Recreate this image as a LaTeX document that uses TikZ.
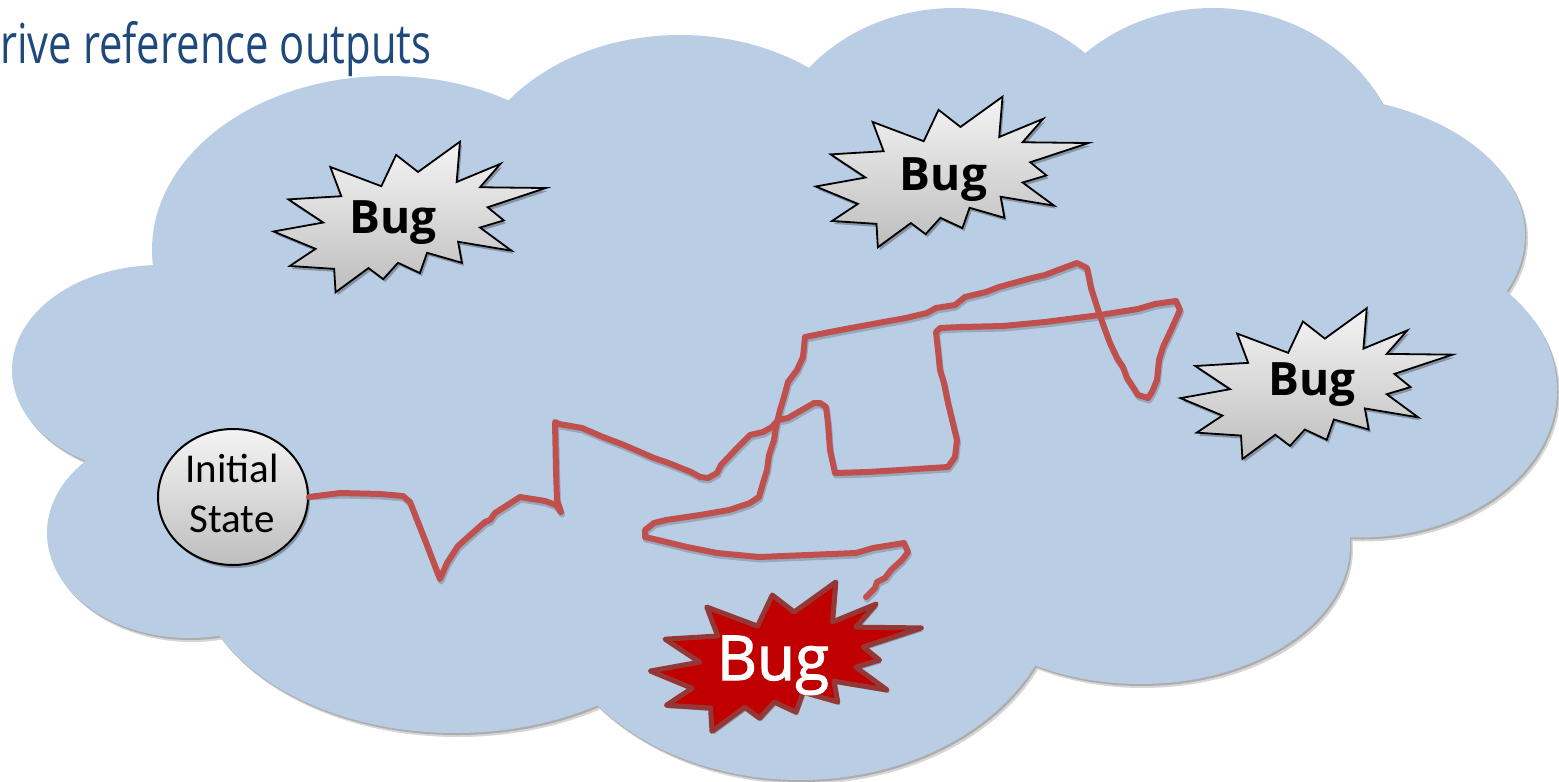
\documentclass[tikz,border=0pt]{standalone}
\usepackage{fontspec}
\setmainfont{Open Sans}
\newfontfamily\calib{Carlito}
\newfontfamily\obold[FakeBold=1.8]{Open Sans}
\usepackage{graphicx}
\usetikzlibrary{shapes.geometric}
\definecolor{cloudblue}{RGB}{185,205,228}
\definecolor{titleblue}{RGB}{31,73,125}
\definecolor{pathred}{RGB}{192,80,77}
\definecolor{bugred}{RGB}{192,0,0}
\definecolor{bugedge}{RGB}{149,55,53}
\definecolor{graytop}{RGB}{244,244,244}
\definecolor{graybot}{RGB}{190,190,190}

\newcommand\sealpts{(0.5306,0.2010) -- (0.6847,0) -- (0.6725,0.2675) -- (0.8337,0.1469) -- (0.7583,0.3024) -- (1,0.3076) -- (0.7863,0.4353) -- (0.8458,0.5227) -- (0.7583,0.5699) -- (0.8739,0.7237) -- (0.6778,0.6644) -- (0.6918,0.8042) -- (0.5639,0.7377) -- (0.5376,0.8723) -- (0.4570,0.8042) -- (0.4028,0.9126) -- (0.3485,0.8391) -- (0.2276,1) -- (0.2225,0.8444) -- (0.0595,0.8252) -- (0.1542,0.7116) -- (0,0.5962) -- (0.1822,0.5367) -- (0.0543,0.3829) -- (0.2487,0.3619) -- (0.2084,0.1678) -- (0.3958,0.2955) -- (0.4501,0.0874) -- cycle}

\newcommand\drawseal[5]{%
  \begin{scope}[shift={(#1+2,#2+3)},xscale=#3,yscale=#4]
    \fill[black,opacity=0.28] \sealpts;
  \end{scope}
  \begin{scope}[shift={(#1,#2)},xscale=#3,yscale=#4]
    \path[#5] \sealpts;
  \end{scope}}

\newcommand\lobelist{388/250/236/174, 160/370/148/105, 189/533/142/105, 455/560/262/173, 800/580/260/200, 1140/545/210/139, 1360/390/197/147.5, 1305/235/220/140, 1213/180/189/172, 955/170/188/162, 680/200/215/165, 780/400/600/260}

\newcommand\walkpts{-- (340,493) -- (380,494) -- (403,496) -- (410,502) -- (425,540) -- (440,579) -- (447,563) -- (458,546) -- (468,537) -- (485,522) -- (490,520) -- (495,513) -- (520,497) -- (545,501) -- (556,505) -- (561,512) -- (557,500) -- (556,470) -- (555,422) -- (559,424) -- (582,428) -- (603,437) -- (624,445) -- (654,458) -- (666,462) -- (691,472) -- (700,477) -- (708,478) -- (717,473) -- (721,465) -- (738,447) -- (750,435) -- (763,432) -- (772,427) -- (778,420) -- (788,418) -- (814,403) -- (820,403) -- (826,407) -- (828,423) -- (830,450) -- (835,473) -- (868,472) -- (948,467) -- (955,457) -- (957,440) -- (948,403) -- (944,383) -- (940,370) -- (938,350) -- (936,332) -- (940,328) -- (961,327) -- (1003,326) -- (1045,322) -- (1100,315) -- (1138,309) -- (1155,304) -- (1176,301) -- (1180,310) -- (1171,330) -- (1163,347) -- (1159,360) -- (1157,380) -- (1152,392) -- (1148,398) -- (1138,395) -- (1133,387) -- (1127,378) -- (1123,367) -- (1117,358) -- (1110,343) -- (1104,327) -- (1098,310) -- (1091,288) -- (1087,268) -- (1077,263) -- (1066,267) -- (1045,275) -- (1032,278) -- (999,287) -- (986,292) -- (965,297) -- (955,305) -- (936,308) -- (927,313) -- (906,318) -- (889,321) -- (851,328) -- (830,332) -- (805,337) -- (803,357) -- (797,370) -- (788,382) -- (784,397) -- (780,410) -- (776,427) -- (774,440) -- (769,455) -- (767,470) -- (763,483) -- (759,497) -- (750,503) -- (729,510) -- (700,515) -- (666,520) -- (654,523) -- (645,530) -- (645,537) -- (658,540) -- (687,547) -- (717,553) -- (759,557) -- (856,553) -- (873,548) -- (904,543) -- (908,552) -- (902,560) -- (891,570) -- (885,578) -- (877,582) -- (875,588) -- (866,597)}

\tikzset{
  redpath/.style={draw=pathred,line width=6pt,line join=round,line cap=round},
  pathshade/.style={draw=black,opacity=0.18,line width=6pt,line join=round,line cap=round},
  graybug/.style={draw=black,line width=1.8pt,line join=miter,top color=graytop,bottom color=graybot},
  redbug/.style={draw=bugedge,line width=5pt,line join=round,fill=bugred},
  bugtext/.style={anchor=base,inner sep=0pt,font=\bfseries\fontsize{46}{46}\selectfont},
  initext/.style={anchor=base,inner sep=0pt,font=\calib\fontsize{41}{41}\selectfont}
}

\begin{document}
\begin{tikzpicture}[x=1pt,y=-1pt]
\useasboundingbox (0,0) rectangle (1559,782);
% cloud shadow and body
\begin{scope}[shift={(3,4)}]
  \foreach \cx/\cy/\rx/\ry in \lobelist
    \fill[black!16] (\cx,\cy) ellipse [x radius=\rx, y radius=\ry];
\end{scope}
\begin{scope}[shift={(1.5,2)}]
  \foreach \cx/\cy/\rx/\ry in \lobelist
    \fill[black!32] (\cx,\cy) ellipse [x radius=\rx, y radius=\ry];
\end{scope}
\foreach \cx/\cy/\rx/\ry in \lobelist
  \fill[cloudblue] (\cx,\cy) ellipse [x radius=\rx, y radius=\ry];

% title fragment
\node[anchor=base west,inner sep=0pt,text=titleblue,font=\fontsize{55}{64}\selectfont] (title) at (0,63) {\scalebox{0.76}[1]{rive reference outputs}};

% bugs
\drawseal{273.6}{141.7}{272.2}{150.6}{graybug}
\drawseal{815.8}{96.7}{272.7}{150.6}{graybug}
\drawseal{1180.5}{308.3}{272}{150.7}{graybug}
\drawseal{650.3}{582}{271}{149.3}{redbug}
\node[bugtext] (bug1) at (393,233) {Bug};
\node[bugtext] (bug2) at (943.5,190) {Bug};
\node[bugtext] (bug3) at (1311.7,395) {Bug};
\node[anchor=base,inner sep=0pt,text=white,font=\obold\fontsize{62}{62}\selectfont] (bug4) at (773,680) {Bug};

% initial state
\fill[black,opacity=0.28] (235,500) ellipse [x radius=75, y radius=68];
\node[ellipse,draw=black,line width=2pt,top color=graytop,bottom color=graybot,minimum width=150pt,minimum height=136pt,inner sep=0pt] (init) at (233,497) {};
\node[initext] (initA) at (232,482) {Initial};
\node[initext] (initB) at (232,532) {State};

% random walk
\begin{scope}[shift={(1,2.5)}]
  \draw[pathshade] (308,495) \walkpts;
\end{scope}
\draw[redpath] (init.east) \walkpts;
\end{tikzpicture}
\end{document}
